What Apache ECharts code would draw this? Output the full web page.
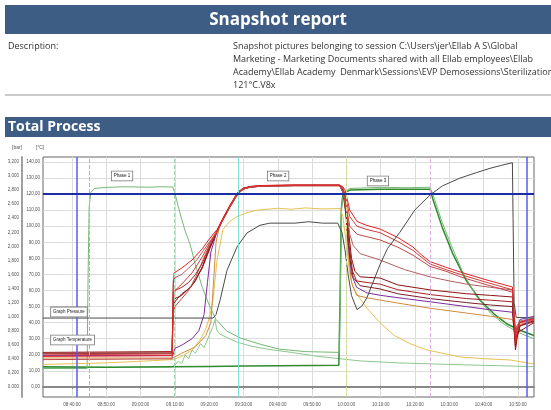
<!DOCTYPE html>
<html>
<head>
<meta charset="utf-8">
<title>Snapshot report</title>
<script src="https://cdn.jsdelivr.net/npm/echarts@6/dist/echarts.min.js"></script>
<style>
  html, body { margin: 0; padding: 0; background: #fff; }
  #chart { width: 551px; height: 410px; }
</style>
</head>
<body>
<div id="chart"></div>
<script>
// x values are minutes after 08:00:00
var timeTicks = [40, 50, 60, 70, 80, 90, 100, 110, 120, 130, 140, 150, 160, 170];
var tempTicks = [0, 10, 20, 30, 40, 50, 60, 70, 80, 90, 100, 110, 120, 130, 140];
var pressureTicks = [0, 0.2, 0.4, 0.6, 0.8, 1.0, 1.2, 1.4, 1.6, 1.8, 2.0, 2.2, 2.4, 2.6, 2.8, 3.0, 3.2];

var phaseMarkers = [45.0, 69.8, 88.4, 120.0, 144.4];
var cursorTimes = [41.5, 172.7];
var limitTemp = 120;

var phaseNames = ['Phase 1', 'Phase 2', 'Phase 3'];
var phaseAnchors = [[54.6, 131.3], [100.1, 131.3], [129.2, 128.2]];
var graphNames = ['Graph Pressure', 'Graph Temperature'];
var graphAnchors = [[33.9, 46.7], [33.9, 29.2]];

var descLines = [
  'Snapshot pictures belonging to session C:\\Users\\jer\\Ellab A S\\Global',
  'Marketing - Marketing Documents shared with all Ellab employees\\Ellab',
  'Academy\\Ellab Academy  Denmark\\Sessions\\EVP Demosessions\\Sterilization',
  '121\u00B0C.V8x'
];

var steamChamber = [[31.5,11.5],[44.4,11.5],[44.7,70],[45.0,112],[45.5,121],[46.5,123.5],[50,124.2],[56,124.6],[62,124.3],[66,124.6],[69.4,124.4],[70.2,119],[71.5,108],[73,97],[74.4,89],[76,76],[78,62],[80,51],[82,42],[85,35],[89,30.5],[95,26.5],[100.6,23.5],[108,22],[118,21.5],[118.3,70],[118.6,112],[119.2,121],[121,123.5],[130,124.2],[138,124],[144.4,124.3],[145.5,118],[148,102],[151,86],[154,71],[158,56],[162,46],[166,39],[170,34],[174.7,30]];

var steamDrain = [[31.5,12.5],[50,12.3],[69.4,12.6],[80,12.8],[90,13],[100,13.2],[110,13.4],[117.8,13.5],[118.2,60],[118.5,110],[119,120.5],[121,122.5],[130,123],[144.4,123],[145.2,117],[148,99],[151,83],[155,66],[159,54],[163,45.5],[167,39],[171,35],[174.7,32]];

var ambientSensor = [[31.5,12],[69,12.4],[70,13.5],[71,16],[72,14.5],[73,20],[74,17.5],[75,23],[76,21],[77.5,27],[78.5,24.5],[80,32],[81,37],[81.7,42],[82.2,35.5],[83,33],[85,31],[88,28],[92,25.5],[97,23.5],[104,21.5],[112,19],[124,16.2],[135,15],[150,14],[165,13.2],[174.7,12.6]];

var chamberPressure = [[31.5,0.98],[81.1,0.98],[82,1.03],[83.2,1.24],[85.2,1.66],[88.1,1.99],[91,2.19],[94.8,2.3],[97.7,2.33],[105,2.33],[109,2.35],[113,2.33],[117.5,2.33],[118.2,2.25],[118.7,2.2],[119.6,1.95],[120.5,1.6],[121.5,1.3],[123.1,1.1],[124.5,1.15],[126,1.27],[129.8,1.74],[132,1.97],[135.6,2.2],[140,2.52],[144.4,2.73],[148,2.86],[153.1,2.97],[158,3.05],[161.9,3.11],[165,3.15],[168.4,3.19],[168.6,2.4],[168.9,1.2],[169.5,0.99],[174.7,0.98]];

var loadYellow = [[31.5,14],[50,15],[60,16],[69.4,17],[72,19],[75,23],[77.3,29],[79,36],[80.3,45],[81.1,54],[82.3,79],[84,98],[86,103],[88.1,106],[91,108.5],[93.9,110],[100,111.2],[104,110.6],[108,111.4],[113,110.8],[118.1,111],[119,106],[120.2,85],[121,70],[121.9,62],[124,55],[126,49],[129.8,40],[134,32],[138.5,27],[143.5,23],[148,21],[153.1,18.7],[160,17.6],[167.7,16.8],[174.4,14.3]];

var productR1 = [[31.5,19],[69.2,19.5],[69.5,62],[69.8,71],[72,74],[75,79],[78,86],[80,92],[82.3,98],[84,105],[86,113],[88.4,121.5],[90,123.8],[92,124.8],[95.7,125.4],[105,125.7],[118,125.7],[119,124.5],[119.6,122.6],[121,110],[123.1,103],[126,100.5],[129.8,98.3],[135,93],[139.4,87.1],[142,82],[144.4,78],[149,74.5],[154,71],[161,66.5],[168.4,62.2],[168.8,50],[169.3,27],[169.7,33],[170.6,40],[172.7,41.7],[174.7,42.3]];

var productR2 = [[31.5,20],[69.2,20.5],[69.5,54],[70,60],[72,64],[75,71],[78,81],[80,89],[82.3,97],[84,104.5],[86,112.5],[88.4,121],[90,123.5],[92,124.6],[95.7,125.2],[105,125.5],[118,125.5],[119,124],[119.8,118],[121,106],[123.1,100],[126,98],[129.8,96],[135,90.5],[139.4,85],[142,80.5],[144.4,76.5],[149,73],[154,69.5],[161,65],[168.4,60.5],[168.8,48],[169.3,30],[169.7,35],[170.6,40.5],[174.7,42]];

var productR3 = [[31.5,17],[69.2,17.5],[69.5,46],[70,50],[72,55],[74,60],[76,68],[78,78],[80,88],[82.3,96.5],[84,104],[86,112],[88.4,120.5],[90,123.2],[92,124.4],[95.7,125],[105,125.3],[118,125.3],[119,123],[120,112],[121,100],[123.1,95],[126,93.5],[129.8,91.5],[135,87],[139.4,82],[144.4,75],[149,72],[154,68],[161,63.5],[168.4,59],[168.8,46],[169.3,32],[169.7,36],[170.6,40],[174.7,41.5]];

var productRose = [[31.5,21],[69.2,21.5],[69.5,66],[70,68],[72,70],[74,74],[76,78],[78,84],[80,90],[82.3,97],[84,104.5],[86,112],[88.4,120.5],[90,123.4],[92,124.5],[95.7,125],[105,125.4],[118,125.4],[119,121],[120,110],[121,95],[122,88],[124,83],[129.8,79],[137,73],[144.4,68.5],[150,66],[155,64],[162,62],[168.4,60.4],[168.8,48],[169.3,36],[169.7,38],[170.6,41],[174.7,43]];

var productDR1 = [[31.5,21.5],[69.2,22],[69.5,52],[70,55],[72,57],[75,63],[78,74],[80,85],[82.3,97],[84,104.5],[86,112.5],[88.4,121],[90,123.6],[92,124.7],[95.7,125.3],[105,125.6],[118,125.6],[119,123],[119.6,118],[120.5,100],[121.5,80],[122.5,72],[124,68.5],[129.8,67.8],[135,63.5],[144.4,60.4],[155,58],[162,57],[168.4,56],[168.8,40],[169.3,23],[169.8,31],[170.6,38],[172.7,40],[174.7,41]];

var productDR2 = [[31.5,21],[69.2,21.5],[69.5,58],[70,60],[72,62],[74,65],[76,70],[78,77],[80,87],[82.3,97],[84,104.5],[86,112.5],[88.4,121],[90,123.5],[92,124.6],[95.7,125.2],[105,125.5],[118,125.5],[119,122],[119.8,110],[120.8,88],[121.8,72],[123,66],[126,65],[129.8,64],[135,60.5],[144.4,57.5],[155,55],[162,54],[168.4,53],[168.8,38],[169.3,25],[169.8,32],[170.6,38],[174.7,40.5]];

var productDR3 = [[31.5,20.8],[69.2,21],[69.5,50],[70,53],[72,58],[74,61],[76,66],[78,75],[80,86],[82.3,96.5],[84,104],[86,112],[88.4,120.5],[90,123.2],[92,124.4],[95.7,125],[105,125.3],[118,125.3],[119,121],[120,105],[121,80],[122,68],[124,63],[129.8,61],[135,58],[144.4,55],[155,52.5],[162,51],[168.4,50],[168.8,38],[169.3,28],[170,34],[174.7,40]];

var productPurple = [[31.5,19.5],[69.4,19.5],[70,24],[72,26],[75,30],[77,35],[78.5,45],[79.5,65],[80.5,84],[82.3,97],[84,104],[86,112],[88.4,120.5],[90,123.2],[92,124.4],[95.7,125],[105,125.3],[118,125.3],[119,123],[119.6,118],[120.5,90],[121.5,70],[123,62],[126,58.5],[130,57],[137,55],[144.4,53],[155,50],[162,48],[168.4,46.5],[168.8,40],[169.3,33],[170.6,42],[174.7,44]];

var productOrange = [[31.5,18],[69.4,18],[72,21],[76,25],[79,32],[80.5,40],[81.1,60],[82,90],[83,100],[84,104],[86,111.5],[88.4,120],[90,123],[92,124.2],[95.7,125],[105,125.2],[118,125.2],[119,122],[119.6,115],[120.5,85],[121.5,65],[123,57],[126,55.5],[130,54],[137,51.5],[144.4,49],[155,46],[162,44],[168.4,42],[168.8,38],[169.3,34],[170.6,39],[174.7,41]];

var lineDefs = [
  { name: 'Ambient', data: ambientSensor, color: '#8cc88c', width: 1 },
  { name: 'Drain', data: steamDrain, color: '#2e8b2e', width: 1.5 },
  { name: 'Chamber', data: steamChamber, color: '#74b874', width: 1 },
  { name: 'Load', data: loadYellow, color: '#e6c150', width: 1 },
  { name: 'Orange', data: productOrange, color: '#d08a40', width: 1 },
  { name: 'Purple', data: productPurple, color: '#7c2c9c', width: 1 },
  { name: 'DR3', data: productDR3, color: '#7a1e28', width: 1 },
  { name: 'DR2', data: productDR2, color: '#a52222', width: 1 },
  { name: 'DR1', data: productDR1, color: '#8c1414', width: 1 },
  { name: 'Rose', data: productRose, color: '#b06060', width: 1 },
  { name: 'R3', data: productR3, color: '#c04646', width: 1 },
  { name: 'R2', data: productR2, color: '#d23c3c', width: 1 },
  { name: 'R1', data: productR1, color: '#e02424', width: 1 }
];

var markerColors = ['#c9a3d6', '#9fd4b5', '#7fe0d2', '#d6dc8a', '#e0b0e0'];

function pad(n) { return (n < 10 ? '0' : '') + n; }
function timeLabel(v) {
  var total = Math.round(480 + v);
  return pad(Math.floor(total / 60)) + ':' + pad(total % 60) + ':00';
}

var chart = echarts.init(document.getElementById('chart'), null, { renderer: 'canvas' });

var series = lineDefs.map(function (d) {
  return {
    name: d.name, type: 'line', data: d.data, yAxisIndex: 0,
    showSymbol: false, symbol: 'none', silent: true,
    lineStyle: { color: d.color, width: d.width }
  };
});

series.push({
  name: 'Pressure', type: 'line', data: chamberPressure, yAxisIndex: 1,
  showSymbol: false, symbol: 'none', silent: true,
  lineStyle: { color: '#4a4a4a', width: 1 }
});

var markLineData = phaseMarkers.map(function (t, i) {
  return { xAxis: t, lineStyle: { color: markerColors[i], type: i === 2 ? 'solid' : 'dashed', width: 1 } };
}).concat(cursorTimes.map(function (t) {
  return { xAxis: t, lineStyle: { color: '#5a5af0', type: 'solid', width: 1.5 } };
})).concat([{ yAxis: limitTemp, lineStyle: { color: '#1c2ca6', type: 'solid', width: 2 } }]);

var boxLabel = {
  show: true, formatter: '{b}', fontSize: 4.5, color: '#222',
  fontFamily: 'Liberation Sans',
  backgroundColor: '#fff', borderColor: '#777', borderWidth: 0.8, padding: [2, 2]
};

series.push({
  name: 'markers', type: 'line', data: [], yAxisIndex: 0, silent: true,
  markLine: { silent: true, symbol: ['none', 'none'], label: { show: false }, data: markLineData },
  markPoint: {
    silent: true, symbol: 'rect', symbolSize: 0,
    data: phaseNames.map(function (n, i) {
      return { name: n, coord: phaseAnchors[i], label: Object.assign({ position: 'inside' }, boxLabel) };
    }).concat(graphNames.map(function (n, i) {
      return { name: n, coord: graphAnchors[i], label: Object.assign({ position: 'right', distance: 0 }, boxLabel) };
    }))
  },
  z: 5
});

var tickFont = { fontSize: 4.5, color: '#555', fontFamily: 'Liberation Sans' };

chart.setOption({
  animation: false,
  grid: { left: 43, top: 157, right: 17, bottom: 13, show: true, borderColor: '#666', borderWidth: 1 },
  xAxis: {
    type: 'value', min: 31.55, max: 174.7,
    axisLine: { show: true, lineStyle: { color: '#888', width: 2 } },
    axisTick: { show: true, length: 2, customValues: timeTicks, lineStyle: { color: '#888' } },
    axisLabel: Object.assign({ customValues: timeTicks, margin: 5, formatter: timeLabel }, tickFont),
    splitLine: { show: true, lineStyle: { color: '#dcdcdc', width: 1 } }
  },
  yAxis: [{
    type: 'value', position: 'left', offset: 0, min: -6.25, max: 143.1,
    axisLine: { show: false }, axisTick: { show: false, customValues: tempTicks },
    axisLabel: Object.assign({ customValues: tempTicks, margin: 3,
      formatter: function (v) { return v.toFixed(2).replace('.', ','); } }, tickFont),
    splitLine: { show: true, lineStyle: { color: '#dcdcdc', width: 1 } }
  }, {
    type: 'value', position: 'left', offset: 21, min: -0.142857, max: 3.2709,
    axisLine: { show: true, lineStyle: { color: '#a0a0a0', width: 2 } },
    axisTick: { show: false, customValues: pressureTicks },
    axisLabel: Object.assign({ customValues: pressureTicks, margin: 3,
      formatter: function (v) { return v.toFixed(3).replace('.', ','); } }, tickFont),
    splitLine: { show: false }
  }],
  graphic: [
    { type: 'rect', shape: { x: 5, y: 5, width: 546, height: 29 }, style: { fill: '#3d5d84' } },
    { type: 'text', x: 278, y: 20, style: { text: 'Snapshot report', fill: '#fff', font: 'bold 17px "Open Sans"', align: 'center', verticalAlign: 'middle' } },
    { type: 'text', x: 8, y: 46, style: { text: 'Description:', fill: '#333', font: '9px "Open Sans"', verticalAlign: 'middle' } },
    { type: 'text', x: 233, y: 46, style: { text: descLines[0], fill: '#333', font: '9px "Open Sans"', verticalAlign: 'middle' } },
    { type: 'text', x: 233, y: 59, style: { text: descLines[1], fill: '#333', font: '9px "Open Sans"', verticalAlign: 'middle' } },
    { type: 'text', x: 233, y: 72, style: { text: descLines[2], fill: '#333', font: '9px "Open Sans"', verticalAlign: 'middle' } },
    { type: 'text', x: 233, y: 85, style: { text: descLines[3], fill: '#333', font: '9px "Open Sans"', verticalAlign: 'middle' } },
    { type: 'line', shape: { x1: 5, y1: 95, x2: 551, y2: 95 }, style: { stroke: '#999', lineWidth: 1 } },
    { type: 'rect', shape: { x: 5, y: 117, width: 546, height: 20 }, style: { fill: '#3d5d84' } },
    { type: 'text', x: 8, y: 127, style: { text: 'Total Process', fill: '#fff', font: 'bold 14px "Open Sans"', verticalAlign: 'middle' } },
    { type: 'text', x: 17, y: 148, style: { text: '[bar]', fill: '#555', font: '5px "Liberation Sans"', align: 'center', verticalAlign: 'middle' } },
    { type: 'text', x: 40, y: 148, style: { text: '[\u00B0C]', fill: '#555', font: '5px "Liberation Sans"', align: 'center', verticalAlign: 'middle' } }
  ],
  series: series
});
</script>
</body>
</html>
